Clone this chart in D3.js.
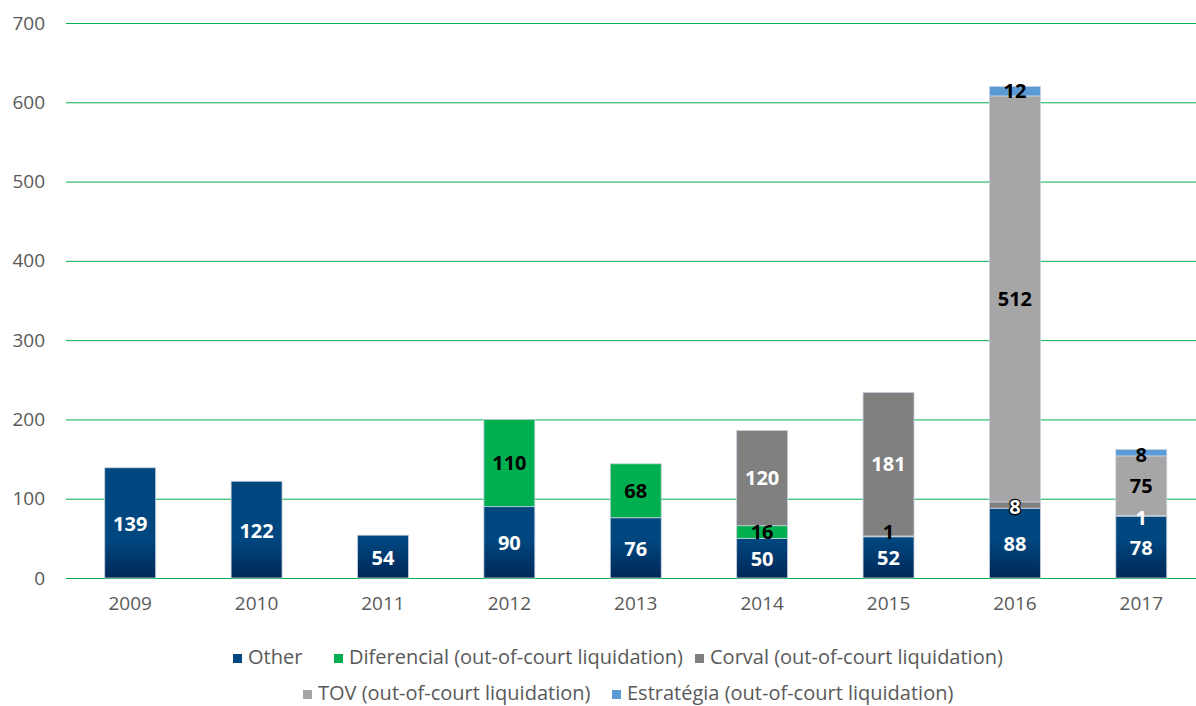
<!DOCTYPE html>
<html>
<head>
<meta charset="utf-8">
<script src="https://cdn.jsdelivr.net/npm/d3@7"></script>
<style>
  body { margin: 0; background: #fff; }
  text { font-family: "Open Sans", sans-serif; }
</style>
</head>
<body>
<script>
    const years = ["2009", "2010", "2011", "2012", "2013", "2014", "2015", "2016", "2017"];
    const other = [139, 122, 54, 90, 76, 50, 52, 88, 78];
    const diferencial = [0, 0, 0, 110, 68, 16, 1, 0, 0];
    const corval = [0, 0, 0, 0, 0, 120, 181, 8, 1];
    const tov = [0, 0, 0, 0, 0, 0, 0, 512, 75];
    const estrategia = [0, 0, 0, 0, 0, 0, 0, 12, 8];
    const yTicks = [0, 100, 200, 300, 400, 500, 600, 700];

    const series = [
        { name: "Other", values: other, color: "url(#otherGrad)", swatch: "#00467f", label: "#fff" },
        { name: "Diferencial (out-of-court liquidation)", values: diferencial, color: "#00b050", swatch: "#00b050", label: "#000" },
        { name: "Corval (out-of-court liquidation)", values: corval, color: "#808080", swatch: "#808080", label: "#fff" },
        { name: "TOV (out-of-court liquidation)", values: tov, color: "#a6a6a6", swatch: "#a6a6a6", label: "#000" },
        { name: "Estratégia (out-of-court liquidation)", values: estrategia, color: "#5b9bd5", swatch: "#5b9bd5", label: "#000" }
    ];

    const svg = d3.select('body')
        .append('svg')
        .attr('width', 1196)
        .attr('height', 706);

    const grad = svg.append('defs').append('linearGradient')
        .attr('id', 'otherGrad')
        .attr('gradientUnits', 'userSpaceOnUse')
        .attr('x1', 0).attr('x2', 0)
        .attr('y1', 540).attr('y2', 578);
    grad.append('stop').attr('offset', '0%').attr('stop-color', '#00467f');
    grad.append('stop').attr('offset', '100%').attr('stop-color', '#002858');

    let x = d3.scaleBand()
        .domain(years)
        .range([67, 1204.5])
        .paddingInner(0.597)
        .paddingOuter(0.2985);
    let y = d3.scaleLinear()
        .domain([0, 700])
        .range([578, 23]);

    // gridlines
    svg.selectAll('.grid')
        .data(yTicks)
        .enter()
        .append('line')
        .attr('x1', 66)
        .attr('x2', 1196)
        .attr('y1', (d) => y(d) + 0.5)
        .attr('y2', (d) => y(d) + 0.5)
        .attr('stroke', '#00b050')
        .attr('stroke-width', 1);

    let yAxis = d3.axisLeft(y).tickValues(yTicks).tickSize(0).tickPadding(0);
    svg.append('g')
        .attr('transform', 'translate(45, 0)')
        .call(yAxis)
        .call((g) => g.select('.domain').remove())
        .selectAll('text')
        .style('font-size', '19px')
        .style('font-family', '"Open Sans", sans-serif')
        .attr('fill', '#595959');

    let xAxis = d3.axisBottom(x).tickSize(0).tickPadding(0);
    svg.append('g')
        .attr('transform', 'translate(0, 596)')
        .call(xAxis)
        .call((g) => g.select('.domain').remove())
        .selectAll('text')
        .style('font-size', '19px')
        .style('font-family', '"Open Sans", sans-serif')
        .attr('fill', '#595959');

    // stacked bars
    let rows = years.map((yr, i) => {
        let r = { year: yr };
        series.forEach((s) => { r[s.name] = s.values[i]; });
        return r;
    });
    let stack = d3.stack().keys(series.map((s) => s.name))(rows);

    stack.forEach((layer, li) => {
        let s = series[li];
        let segs = layer.filter((d) => d[1] - d[0] > 0);
        svg.selectAll('.bar' + li)
            .data(segs)
            .enter()
            .append('rect')
            .attr('x', (d) => x(d.data.year))
            .attr('width', x.bandwidth())
            .attr('y', (d) => y(d[1]))
            .attr('height', (d) => y(d[0]) - y(d[1]))
            .attr('fill', s.color)
            .attr('stroke', '#c5cfdc')
            .attr('stroke-width', 0.8);
    });

    // baseline offset for a label: tiny slices that sit right on a short bar get nudged up
    function labelShift(d, li) {
        let v = d[1] - d[0];
        if (v >= 10) return li === 0 ? 8 : 7;
        return d[0] < 60 ? 3 : 9;
    }

    stack.forEach((layer, li) => {
        let s = series[li];
        let segs = layer.filter((d) => d[1] - d[0] > 0);
        let labs = svg.selectAll('.lab' + li)
            .data(segs)
            .enter()
            .append('text')
            .attr('x', (d) => x(d.data.year) + x.bandwidth() / 2)
            .attr('y', (d) => (y(d[0]) + y(d[1])) / 2 + labelShift(d, li))
            .attr('text-anchor', 'middle')
            .style('font-size', '20px')
            .style('font-weight', 'bold')
            .attr('fill', s.label)
            .text((d) => d[1] - d[0]);
        // white label with dark outline on the small Corval slice in 2016
        labs.filter((d) => li === 2 && d.data.year === "2016")
            .attr('stroke', '#000')
            .attr('stroke-width', 2.5)
            .style('paint-order', 'stroke');
    });

    // legend
    const legendPos = [
        { x: 233, y: 657 }, { x: 334, y: 657 }, { x: 695, y: 657 },
        { x: 303, y: 693 }, { x: 612, y: 693 }
    ];
    let legend = svg.selectAll('.legend')
        .data(series)
        .enter()
        .append('g')
        .attr('transform', (d, i) => 'translate(' + legendPos[i].x + ',' + legendPos[i].y + ')');
    legend.append('rect')
        .attr('x', 0)
        .attr('y', -3)
        .attr('width', 9)
        .attr('height', 9)
        .attr('fill', (d) => d.swatch);
    legend.append('text')
        .attr('x', 15)
        .attr('y', 7)
        .style('font-size', '20px')
        .attr('fill', '#595959')
        .text((d) => d.name);
</script>
</body>
</html>
